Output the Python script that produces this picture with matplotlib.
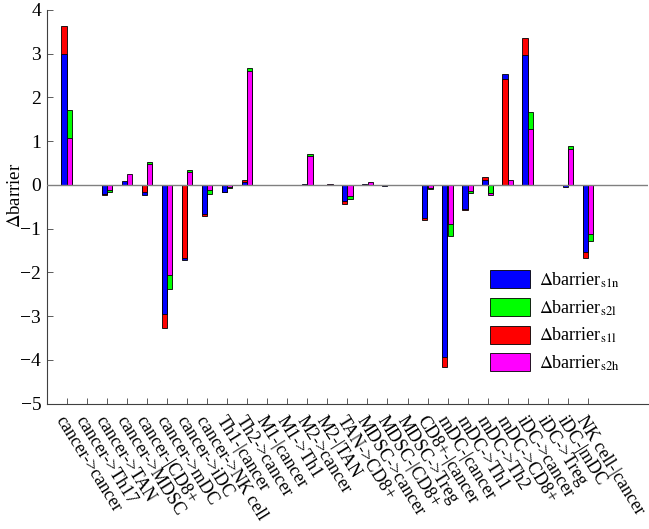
import matplotlib
matplotlib.use("Agg")
import matplotlib.pyplot as plt
import matplotlib.transforms as mtransforms
from matplotlib.patches import Patch
import numpy as np

plt.rcParams["font.family"] = ["Liberation Serif", "DejaVu Serif"]
plt.rcParams["mathtext.fontset"] = "stix"

categories = [
    "cancer->cancer", "cancer->Th17", "cancer->TAN", "cancer->MDSC", "cancer-|CD8+",
    "cancer->mDC", "cancer->iDC", "cancer->NK cell", "Th1-|cancer", "Th2->cancer",
    "M1-|cancer", "M1->Th1", "M2->cancer", "M2-|TAN", "TAN->CD8+", "MDSC->cancer",
    "MDSC-|CD8+", "MDSC->Treg", "CD8+-|cancer", "mDC-|cancer", "mDC->Th1", "mDC->Th2",
    "mDC->CD8+", "iDC->cancer", "iDC->Treg", "iDC-|mDC", "NK cell-|cancer",
]

# full bar heights, each drawn from zero (smaller magnitude in front)
s1n = [3.00, 0.01, -0.20, 0.08, -0.22, -2.96, -1.72, -0.67, -0.16, 0.06, 0.0, 0.0, 0.02, 0.01,
       -0.37, 0.03, -0.02, 0.01, -0.75, -3.93, -0.54, 0.12, 2.54, 2.98, -0.01, -0.05, -1.54]
s1l = [3.64, 0.0, -0.24, 0.0, -0.16, -3.26, -1.66, -0.71, -0.17, 0.12, 0.0, 0.0, 0.0, 0.0,
       -0.43, 0.0, -0.01, 0.0, -0.79, -4.17, -0.57, 0.18, 2.43, 3.36, 0.0, 0.0, -1.67]
s2h = [1.07, 0.0, -0.12, 0.24, 0.49, -2.05, 0.30, -0.12, -0.05, 2.60, 0.0, 0.0, 0.67, 0.02,
       -0.26, 0.06, -0.01, 0.0, -0.07, -0.90, -0.14, -0.24, 0.12, 1.29, -0.01, 0.82, -1.13]
s2l = [1.72, -0.01, -0.17, 0.0, 0.53, -2.37, 0.35, -0.20, -0.06, 2.67, 0.0, 0.0, 0.70, 0.0,
       -0.31, 0.0, 0.0, 0.0, -0.10, -1.16, -0.18, -0.18, 0.0, 1.67, 0.0, 0.88, -1.29]

series_labels = [r"$\Delta$barrier$_{\mathrm{s1n}}$", r"$\Delta$barrier$_{\mathrm{s2l}}$",
                 r"$\Delta$barrier$_{\mathrm{s1l}}$", r"$\Delta$barrier$_{\mathrm{s2h}}$"]
colors = {"s1n": "#0000ff", "s2l": "#00ff00", "s1l": "#ff0000", "s2h": "#ff00ff"}

x = np.arange(1, len(categories) + 1)
width = 0.26
offset = 0.135

fig = plt.figure(figsize=(6.49, 5.29), dpi=100)
ax = fig.add_axes([0.072, 0.2369, 0.9265, 0.7442])


def overlay(ax, xpos, vals, color):
    bars = ax.bar(xpos, vals, width, color=color, edgecolor="black", linewidth=0.6)
    for patch, v in zip(bars.patches, vals):
        patch.set_zorder(3 - abs(v) / 10.0)
    return bars


overlay(ax, x - offset, s1n, colors["s1n"])
overlay(ax, x - offset, s1l, colors["s1l"])
overlay(ax, x + offset, s2h, colors["s2h"])
overlay(ax, x + offset, s2l, colors["s2l"])

ax.axhline(0, color="#808080", linewidth=1.0, zorder=3.5)

ax.set_xlim(0, 30)
ax.set_ylim(-5, 4)
ax.set_yticks(np.arange(-5, 5, 1))
ax.set_yticklabels([str(v).replace("-", "\u2212") for v in range(-5, 5)], fontsize=14)
ax.set_xticks(x)
ax.set_xticklabels(categories, fontsize=13, rotation=-58, ha="left", va="top",
                   rotation_mode="anchor")
shift = mtransforms.ScaledTranslation(-9 / 100, 0, fig.dpi_scale_trans)
for lab in ax.get_xticklabels():
    lab.set_transform(lab.get_transform() + shift)

ax.tick_params(axis="both", direction="in", length=4, width=0.6, color="#404040")
ax.tick_params(axis="x", pad=7)
ax.tick_params(axis="y", pad=4)
ax.spines["top"].set_visible(False)
ax.spines["right"].set_visible(False)
for s in ("left", "bottom"):
    ax.spines[s].set_color("#404040")
    ax.spines[s].set_linewidth(0.8)

ax.set_ylabel(r"$\Delta$barrier", fontsize=13.5)
ax.yaxis.set_label_coords(-0.037, 0.53)

handles = [Patch(facecolor=colors[k], edgecolor="black", linewidth=0.6)
           for k in ("s1n", "s2l", "s1l", "s2h")]
fig.legend(handles, series_labels, loc="center", bbox_to_anchor=(0.855, 0.392),
           frameon=False, fontsize=13, handlelength=2.2, handleheight=1.15,
           labelspacing=0.45, handletextpad=0.5)

fig.savefig("out.png", dpi=100)
